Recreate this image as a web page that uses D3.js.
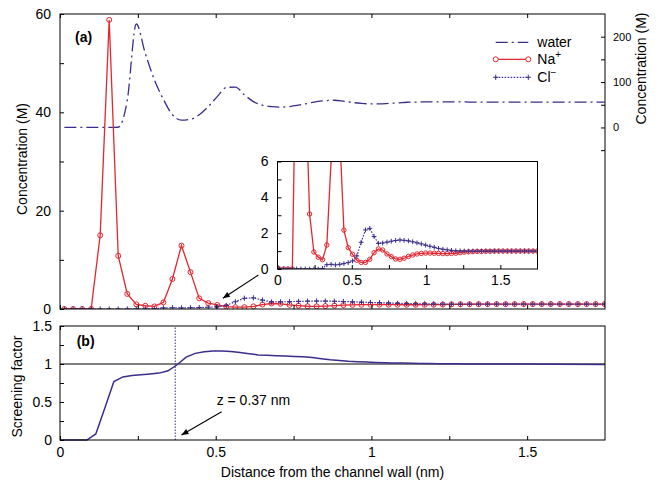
<!DOCTYPE html>
<html><head><meta charset="utf-8">
<script src="https://cdn.jsdelivr.net/npm/d3@7"></script>
<style>
body{margin:0;background:#fff}
</style></head><body>
<svg id="chart" width="658" height="481"></svg>
<script>
// Sampling positions of the density profiles (nm from the wall)
const zGrid = [0.014,0.042,0.071,0.100,0.129,0.158,0.187,0.216,0.245,0.274,
  0.303,0.332,0.361,0.390,0.419,0.447,0.476,0.505,0.534,0.563,
  0.592,0.621,0.650,0.679,0.708,0.737,0.766,0.795,0.824,0.852,
  0.881,0.910,0.939,0.968,0.997,1.026,1.055,1.084,1.113,1.142,
  1.171,1.200,1.229,1.257,1.286,1.315,1.344,1.373,1.402,1.431,
  1.460,1.489,1.518,1.547,1.576,1.605,1.634,1.663,1.691,1.720,1.749];

// Na+ concentration (M)
const naConc = [0,0,0,0,15.0,58.8,10.8,3.07,0.95,0.66,
  0.52,1.34,6.1,12.9,7.5,2.17,1.19,0.82,0.49,0.37,
  0.37,0.54,0.91,1.12,1.06,0.84,0.69,0.56,0.54,0.60,
  0.70,0.78,0.84,0.87,0.89,0.89,0.88,0.87,0.86,0.86,
  0.87,0.88,0.91,0.94,0.96,0.97,0.98,0.98,0.99,0.99,
  1.0,1.0,1.0,1.0,1.0,1.0,1.0,1.0,1.0,1.0,1.0];

// Cl- concentration (M)
const clConc = [0,0,0,0,0,0,0,0,0,0,
  0.03,0.24,0.26,0.23,0.26,0.30,0.36,0.45,0.73,1.49,
  2.18,2.27,1.81,1.43,1.45,1.50,1.55,1.59,1.62,1.60,
  1.57,1.52,1.46,1.40,1.33,1.27,1.21,1.15,1.10,1.07,
  1.04,1.02,1.01,1.0,1.0,1.0,1.0,1.0,1.0,1.0,
  1.0,1.0,1.0,1.0,1.0,1.0,1.0,1.0,1.0,1.0,1.0];

// Water concentration (M), right-hand axis
const waterConc = [0,0,0,0,0,0,0.5,60,228,163,
  105,62,28,16,18,28,46,68,88,89,
  72,57,49,46,45,46,49,53,57,59,
  60,58,55,53,52,52,53,54,55.5,56,
  56.5,56.5,56.5,56.5,56.5,56,56,56,56,56,
  56,56,56,56,56,56,56,56,56,56,56];

// Screening factor, evaluated at bin edges
const screenZ = [0,0.029,0.057,0.086,0.115,0.144,0.173,0.202,0.231,0.260,
  0.289,0.318,0.347,0.376,0.405,0.434,0.463,0.491,0.520,0.549,
  0.578,0.607,0.636,0.665,0.694,0.723,0.752,0.781,0.810,0.839,
  0.868,0.897,0.926,0.955,0.984,1.013,1.042,1.071,1.100,1.129,
  1.157,1.186,1.215,1.244,1.273,1.302,1.40,1.50,1.60,1.75];
const screenFactor = [0,0,0,0,0.08,0.42,0.77,0.83,0.85,0.86,
  0.87,0.88,0.91,0.99,1.09,1.14,1.16,1.17,1.17,1.165,
  1.15,1.135,1.12,1.115,1.11,1.105,1.10,1.095,1.085,1.07,
  1.055,1.045,1.035,1.03,1.025,1.02,1.017,1.014,1.012,1.01,
  1.008,1.006,1.004,1.003,1.002,1.001,1.0,1.0,0.998,0.995];

const screenCrossing = 0.37;

// Tick values
const xMajor = [0, 0.5, 1, 1.5];
const xMinor = [0.25, 0.75, 1.25];
const concMajor = [0, 20, 40, 60];
const concMinor = [10, 30, 50];
const waterMajor = [0, 100, 200];
const waterMinor = [-50, 50, 150];
const screenMajor = [0, 0.5, 1, 1.5];
const screenMinor = [0.25, 0.75, 1.25];
const insetYMajor = [0, 2, 4, 6];
const insetYMinor = [1, 3, 5];

const legendLabels = ["water", "Na", "Cl"];

const FONT = '"Liberation Sans", Arial, Helvetica, sans-serif';
const RED = "#e3262f";
const BLUE = "#3a2d8c";

const svg = d3.select("#chart");

// Panel geometry
const L = 60, R = 605;
const topP = {top: 14, bottom: 309};
const botP = {top: 326, bottom: 440};
const ins = {left: 277.5, right: 537.5, top: 161.5, bottom: 269};

const x = d3.scaleLinear().domain([0, 1.75]).range([L, R]);
const yConc = d3.scaleLinear().domain([0, 60]).range([topP.bottom, topP.top]);
const yWater = d3.scaleLinear().domain([-400, 250]).range([topP.bottom, topP.top]);
const yScreen = d3.scaleLinear().domain([0, 1.5]).range([botP.bottom, botP.top]);
const xi = d3.scaleLinear().domain([0, 1.75]).range([ins.left, ins.right]);
const yi = d3.scaleLinear().domain([0, 6]).range([ins.bottom, ins.top]);

function addAxis(orient, scale, values, labelled, transform, pad, fs) {
  const gen = {left: d3.axisLeft, right: d3.axisRight, top: d3.axisTop, bottom: d3.axisBottom}[orient](scale)
    .tickValues(values).tickSizeInner(-4).tickSizeOuter(0).tickPadding(pad)
    .tickFormat(labelled ? d3.format("") : () => "");
  const g = svg.append("g").attr("transform", transform).call(gen);
  g.select(".domain").remove();
  g.attr("font-family", FONT).attr("font-size", fs);
  g.selectAll("line").attr("stroke", "#000").attr("stroke-width", 1);
  g.selectAll("text").attr("fill", "#000");
  return g;
}

// Clip paths
const defs = svg.append("defs");
defs.append("clipPath").attr("id", "clipTop").append("rect")
  .attr("x", L).attr("y", topP.top).attr("width", R - L).attr("height", topP.bottom - topP.top);
defs.append("clipPath").attr("id", "clipIns").append("rect")
  .attr("x", ins.left).attr("y", ins.top).attr("width", ins.right - ins.left).attr("height", ins.bottom - ins.top);
defs.append("marker").attr("id", "arrow").attr("viewBox", "0 0 10 10")
  .attr("refX", 10).attr("refY", 5).attr("markerWidth", 9).attr("markerHeight", 7)
  .attr("markerUnits", "userSpaceOnUse").attr("orient", "auto")
  .append("path").attr("d", "M0,1 L10,5 L0,9 Z").attr("fill", "#000");

const idx = d3.range(zGrid.length);

function drawProfiles(g, xs, ys, yw, r, plus) {
  if (yw) {
    g.append("path")
      .attr("d", d3.line().x(i => xs(zGrid[i])).y(i => yw(waterConc[i])).curve(d3.curveMonotoneX)(idx))
      .attr("fill", "none").attr("stroke", BLUE).attr("stroke-width", 1.3)
      .attr("stroke-dasharray", "12,4,2,4");
  }
  g.append("path")
    .attr("d", d3.line().x(i => xs(zGrid[i])).y(i => ys(naConc[i]))(idx))
    .attr("fill", "none").attr("stroke", RED).attr("stroke-width", 1.3);
  g.selectAll(null).data(idx).join("circle")
    .attr("cx", i => xs(zGrid[i])).attr("cy", i => ys(naConc[i])).attr("r", r)
    .attr("fill", "none").attr("stroke", RED).attr("stroke-width", 1);
  g.append("path")
    .attr("d", d3.line().x(i => xs(zGrid[i])).y(i => ys(clConc[i]))(idx))
    .attr("fill", "none").attr("stroke", BLUE).attr("stroke-width", 1.2)
    .attr("stroke-dasharray", "1.5,1.5");
  g.selectAll(null).data(idx).join("path")
    .attr("d", i => {
      const cx = xs(zGrid[i]), cy = ys(clConc[i]);
      return `M${cx - plus},${cy}H${cx + plus}M${cx},${cy - plus}V${cy + plus}`;
    })
    .attr("stroke", BLUE).attr("stroke-width", 1);
}

// ---------- Panel (a) ----------
const gTop = svg.append("g").attr("clip-path", "url(#clipTop)");
drawProfiles(gTop, x, yConc, yWater, 2.5, 2.6);

svg.append("rect").attr("x", L).attr("y", topP.top).attr("width", R - L).attr("height", topP.bottom - topP.top)
  .attr("fill", "none").attr("stroke", "#000").attr("stroke-width", 1);

addAxis("left", yConc, concMajor, true, `translate(${L},0)`, 9, 14);
addAxis("left", yConc, concMinor, false, `translate(${L},0)`, 9, 14);
addAxis("right", yWater, waterMajor, true, `translate(${R},0)`, 8, 11);
addAxis("right", yWater, waterMinor, false, `translate(${R},0)`, 8, 11);
addAxis("top", x, xMajor.concat(xMinor), false, `translate(0,${topP.top})`, 5, 14);
addAxis("bottom", x, xMajor.concat(xMinor), false, `translate(0,${topP.bottom})`, 5, 14);

svg.append("text").attr("x", 75).attr("y", 41.5).attr("font-family", FONT)
  .attr("font-size", 14).attr("font-weight", "bold").text("(a)");

svg.append("text").attr("transform", `translate(27,159) rotate(-90)`).attr("text-anchor", "middle")
  .attr("font-family", FONT).attr("font-size", 14).text("Concentration (M)");
svg.append("text").attr("transform", `translate(646,68.5) rotate(-90)`).attr("text-anchor", "middle")
  .attr("font-family", FONT).attr("font-size", 14).text("Concentration (M)");

// Legend
const lg = svg.append("g").attr("font-family", FONT).attr("font-size", 14);
const lx0 = 495.7, lx1 = 528.3, ltx = 537.3;
const lys = [42.3, 59.3, 77.3];
lg.append("line").attr("x1", lx0).attr("x2", lx1).attr("y1", lys[0]).attr("y2", lys[0])
  .attr("stroke", BLUE).attr("stroke-width", 1.3).attr("stroke-dasharray", "12,4,2,4");
lg.append("line").attr("x1", lx0).attr("x2", lx1).attr("y1", lys[1]).attr("y2", lys[1])
  .attr("stroke", RED).attr("stroke-width", 1.3);
[lx0, lx1].forEach(cx => lg.append("circle").attr("cx", cx).attr("cy", lys[1]).attr("r", 2.5)
  .attr("fill", "#fff").attr("stroke", RED).attr("stroke-width", 1));
lg.append("line").attr("x1", lx0).attr("x2", lx1).attr("y1", lys[2]).attr("y2", lys[2])
  .attr("stroke", BLUE).attr("stroke-width", 1.2).attr("stroke-dasharray", "1.5,1.5");
[lx0, lx1].forEach(cx => lg.append("path")
  .attr("d", `M${cx - 2.6},${lys[2]}H${cx + 2.6}M${cx},${lys[2] - 2.6}V${lys[2] + 2.6}`)
  .attr("stroke", BLUE).attr("stroke-width", 1));
lg.append("text").attr("x", ltx).attr("y", 46.5).text(legendLabels[0]);
const naT = lg.append("text").attr("x", ltx).attr("y", 64).text(legendLabels[1]);
naT.append("tspan").attr("font-size", 10).attr("dy", -6).text("+");
const clT = lg.append("text").attr("x", ltx).attr("y", 81.7).text(legendLabels[2]);
clT.append("tspan").attr("font-size", 10).attr("dy", -6).text("\u2212");

// Arrow to the inset region
svg.append("line")
  .attr("x1", x(0.637)).attr("y1", yConc(6.9)).attr("x2", x(0.523)).attr("y2", yConc(2.2))
  .attr("stroke", "#000").attr("stroke-width", 1.1).attr("marker-end", "url(#arrow)");

// ---------- Inset ----------
svg.append("rect").attr("x", ins.left).attr("y", ins.top).attr("width", ins.right - ins.left)
  .attr("height", ins.bottom - ins.top).attr("fill", "#fff");
const gIns = svg.append("g").attr("clip-path", "url(#clipIns)");
drawProfiles(gIns, xi, yi, null, 2.2, 2.4);
svg.append("rect").attr("x", ins.left).attr("y", ins.top).attr("width", ins.right - ins.left)
  .attr("height", ins.bottom - ins.top).attr("fill", "none").attr("stroke", "#000").attr("stroke-width", 1);
addAxis("left", yi, insetYMajor, true, `translate(${ins.left},0)`, 9, 14);
addAxis("left", yi, insetYMinor, false, `translate(${ins.left},0)`, 9, 14);
addAxis("bottom", xi, xMajor, true, `translate(0,${ins.bottom})`, 6, 14);
addAxis("bottom", xi, xMinor, false, `translate(0,${ins.bottom})`, 6, 14);

// ---------- Panel (b) ----------
svg.append("line").attr("x1", L).attr("x2", R).attr("y1", yScreen(1)).attr("y2", yScreen(1))
  .attr("stroke", "#000").attr("stroke-width", 1);
svg.append("line").attr("x1", x(screenCrossing)).attr("x2", x(screenCrossing))
  .attr("y1", yScreen(0)).attr("y2", yScreen(1.5))
  .attr("stroke", BLUE).attr("stroke-width", 1).attr("stroke-dasharray", "1.5,1.5");
svg.append("path")
  .attr("d", d3.line().x((d, i) => x(screenZ[i])).y(d => yScreen(d))(screenFactor))
  .attr("fill", "none").attr("stroke", BLUE).attr("stroke-width", 1.5);

svg.append("rect").attr("x", L).attr("y", botP.top).attr("width", R - L).attr("height", botP.bottom - botP.top)
  .attr("fill", "none").attr("stroke", "#000").attr("stroke-width", 1);
addAxis("left", yScreen, screenMajor, true, `translate(${L},0)`, 8, 14);
addAxis("left", yScreen, screenMinor, false, `translate(${L},0)`, 8, 14);
addAxis("bottom", x, xMajor, true, `translate(0,${botP.bottom})`, 7, 14);
addAxis("bottom", x, xMinor, false, `translate(0,${botP.bottom})`, 7, 14);
addAxis("top", x, xMajor.concat(xMinor), false, `translate(0,${botP.top})`, 5, 14);

svg.append("text").attr("x", 76.7).attr("y", 346).attr("font-family", FONT)
  .attr("font-size", 14).attr("font-weight", "bold").text("(b)");

svg.append("text").attr("x", x(0.503)).attr("y", yScreen(0.46)).attr("font-family", FONT)
  .attr("font-size", 14).text(`z = ${screenCrossing} nm`);
svg.append("line")
  .attr("x1", x(0.519)).attr("y1", yScreen(0.372)).attr("x2", x(0.39)).attr("y2", yScreen(0.066))
  .attr("stroke", "#000").attr("stroke-width", 1.1).attr("marker-end", "url(#arrow)");

svg.append("text").attr("transform", `translate(21.5,386.5) rotate(-90)`).attr("text-anchor", "middle")
  .attr("font-family", FONT).attr("font-size", 14).text("Screening factor");
svg.append("text").attr("x", 332.5).attr("y", 476.5).attr("text-anchor", "middle")
  .attr("font-family", FONT).attr("font-size", 14).text("Distance from the channel wall (nm)");
</script></body></html>
